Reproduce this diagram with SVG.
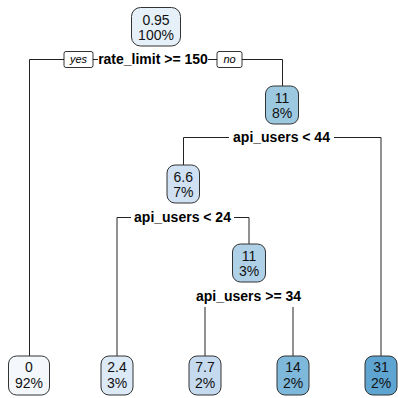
<svg xmlns="http://www.w3.org/2000/svg" width="398" height="398" viewBox="0 0 398 398">
<style>
.node rect{stroke:#333;stroke-width:1}
.node text{font-family:"Liberation Sans",Arial,sans-serif;font-size:14px;fill:#111;text-anchor:middle}
.lbl{font-family:"Liberation Sans",Arial,sans-serif;font-size:14px;font-weight:bold;fill:#000;text-anchor:middle}
.yn rect{fill:#fff;stroke:#000;stroke-width:0.8}
.yn text{font-family:"Liberation Sans",Arial,sans-serif;font-size:11px;font-style:italic;fill:#000;text-anchor:middle}
.conn line{stroke:#222;stroke-width:1;fill:none}
</style>
<rect width="398" height="398" fill="#fff"/>
<g id="connectors" class="conn">
  <line x1="29.5" y1="59.5" x2="29.5" y2="356"/>
  <line x1="29.5" y1="59.5" x2="64" y2="59.5"/>
  <line x1="93" y1="59.5" x2="98" y2="59.5"/>
  <line x1="208" y1="59.5" x2="217" y2="59.5"/>
  <line x1="242" y1="59.5" x2="282.5" y2="59.5"/>
  <line x1="282.5" y1="59.5" x2="282.5" y2="86"/>
  <line x1="183.5" y1="137.5" x2="229" y2="137.5"/>
  <line x1="334" y1="137.5" x2="381" y2="137.5"/>
  <line x1="183.5" y1="137.5" x2="183.5" y2="165"/>
  <line x1="381" y1="137.5" x2="381" y2="356"/>
  <line x1="117" y1="217.5" x2="131" y2="217.5"/>
  <line x1="234" y1="217.5" x2="249" y2="217.5"/>
  <line x1="117" y1="217.5" x2="117" y2="356"/>
  <line x1="249" y1="217.5" x2="249" y2="244"/>
  <line x1="205" y1="307" x2="205" y2="356"/>
  <line x1="293" y1="307" x2="293" y2="356"/>
</g>
<g id="labels">
  <text class="lbl" x="153" y="64">rate_limit &gt;= 150</text>
  <g class="yn" id="yes"><rect x="64" y="51.5" width="29" height="16" rx="2"/><text x="78.5" y="63">yes</text></g>
  <g class="yn" id="no"><rect x="217" y="51.5" width="25" height="16" rx="2"/><text x="229.5" y="63">no</text></g>
  <text class="lbl" x="281.5" y="142">api_users &lt; 44</text>
  <text class="lbl" x="182.5" y="222">api_users &lt; 24</text>
  <text class="lbl" x="248.5" y="301">api_users &gt;= 34</text>
</g>
<g id="n1" class="node"><rect x="131.5" y="7.5" width="49" height="38.5" rx="9" fill="#E6F0F9"/><text x="156" y="25">0.95</text><text x="156" y="40">100%</text></g>
<g id="n3" class="node"><rect x="265.5" y="86" width="33" height="38" rx="8" fill="#9DC9E0"/><text x="282" y="103">11</text><text x="282" y="118">8%</text></g>
<g id="n6" class="node"><rect x="167" y="165" width="32.5" height="38" rx="8" fill="#CFE1F2"/><text x="183.3" y="182">6.6</text><text x="183.3" y="197">7%</text></g>
<g id="n13" class="node"><rect x="232.5" y="244" width="33" height="38" rx="8" fill="#AFD1E7"/><text x="249" y="261">11</text><text x="249" y="276">3%</text></g>
<g id="leaf0" class="node"><rect x="8.5" y="356" width="41" height="39" rx="8" fill="#F4F8FD"/><text x="29" y="372">0</text><text x="29" y="388">92%</text></g>
<g id="leaf24" class="node"><rect x="101" y="356" width="32" height="39" rx="8" fill="#DCE9F6"/><text x="117" y="372">2.4</text><text x="117" y="388">3%</text></g>
<g id="leaf77" class="node"><rect x="189" y="356" width="32" height="39" rx="8" fill="#C5DAEE"/><text x="205" y="372">7.7</text><text x="205" y="388">2%</text></g>
<g id="leaf14" class="node"><rect x="277" y="356" width="32" height="39" rx="8" fill="#7EB8DA"/><text x="293" y="372">14</text><text x="293" y="388">2%</text></g>
<g id="leaf31" class="node"><rect x="365" y="356" width="32" height="39" rx="8" fill="#5FA5D1"/><text x="381" y="372">31</text><text x="381" y="388">2%</text></g>
</svg>
